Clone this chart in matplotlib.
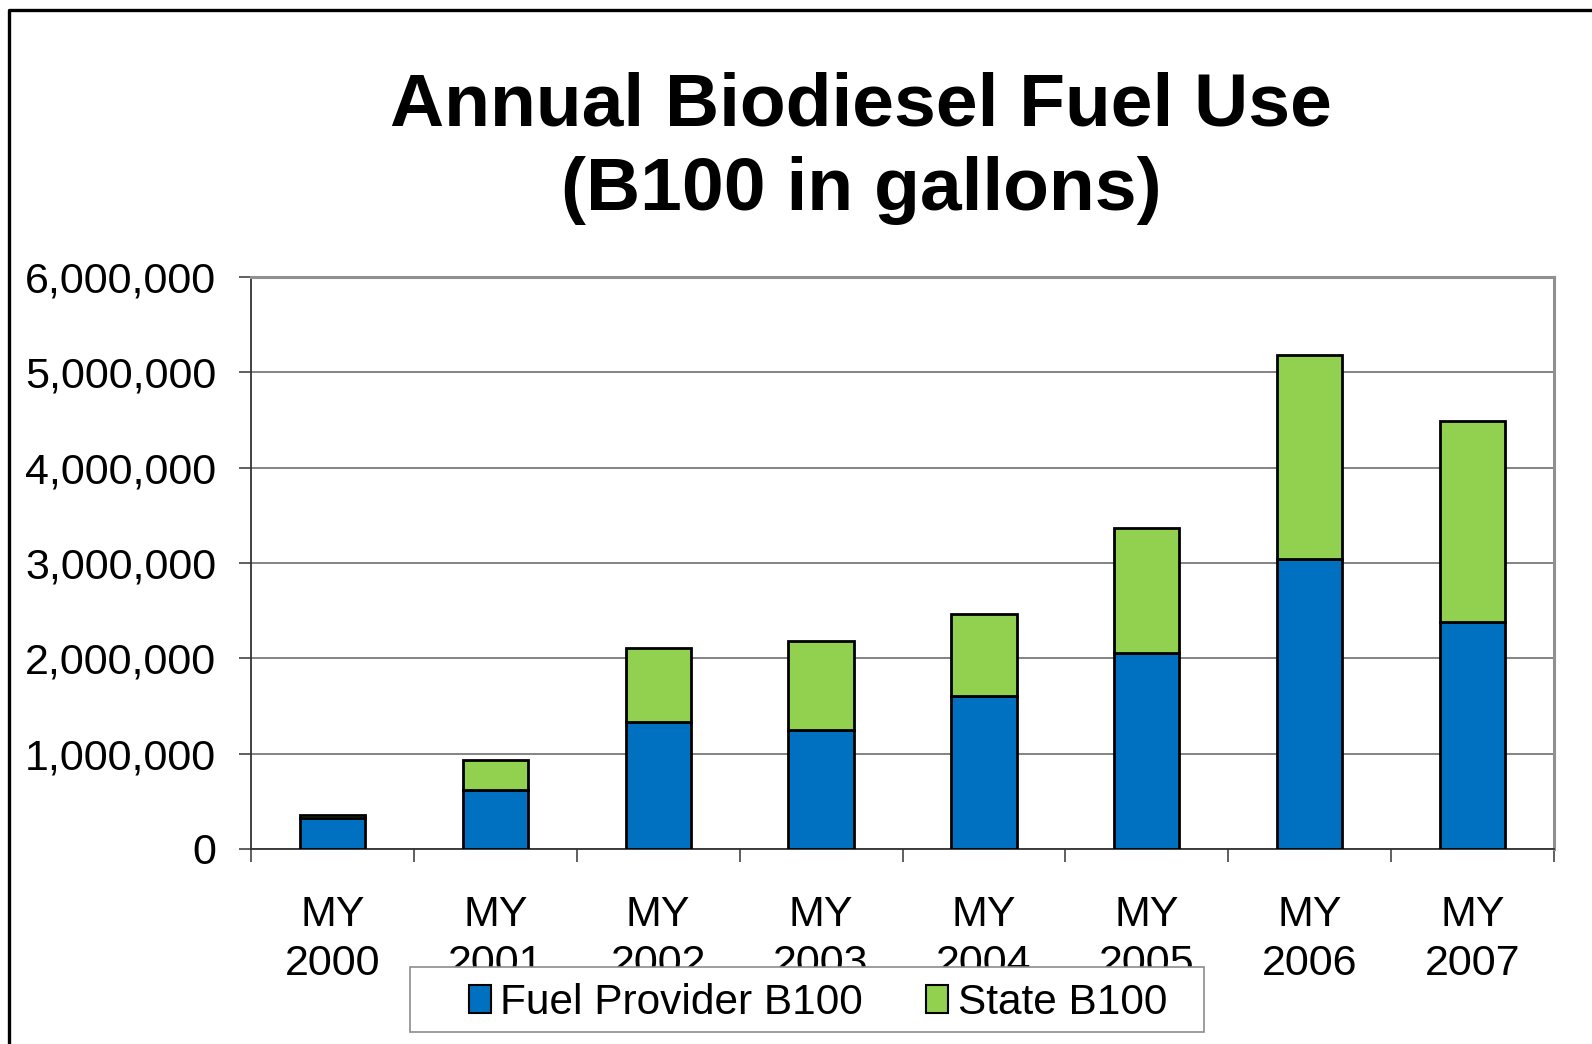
import matplotlib
matplotlib.use("Agg")
import matplotlib.pyplot as plt
from matplotlib.lines import Line2D
from matplotlib.patches import Rectangle, Patch
from matplotlib.ticker import FuncFormatter, FixedLocator
import numpy as np

plt.rcParams['font.family'] = ['Liberation Sans', 'DejaVu Sans']

categories = ["MY\n2000", "MY\n2001", "MY\n2002", "MY\n2003", "MY\n2004", "MY\n2005", "MY\n2006", "MY\n2007"]
fuel_provider = [320000, 617000, 1330000, 1245000, 1606000, 2053000, 3043000, 2383000]
state = [40000, 320000, 776000, 935000, 862000, 1319000, 2137000, 2106000]
yticks = [0, 1000000, 2000000, 3000000, 4000000, 5000000, 6000000]
series_names = ["Fuel Provider B100", "State B100"]
title = "Annual Biodiesel Fuel Use\n(B100 in gallons)"

BLUE = "#0070C0"
GREEN = "#92D050"

W, H = 1592, 1044
fig = plt.figure(figsize=(W / 100, H / 100), dpi=100)
ax = fig.add_axes([251 / W, 1 - 849 / H, (1554 - 251) / W, (849 - 277) / H])

x = np.arange(len(categories))
ax.bar(x, fuel_provider, width=0.4, color=BLUE, edgecolor="black", linewidth=2.0, zorder=3)
ax.bar(x, state, width=0.4, bottom=fuel_provider, color=GREEN, edgecolor="black", linewidth=2.0, zorder=3)

ax.set_xlim(-0.5, len(categories) - 0.5)
ax.set_ylim(0, 6000000)
ax.set_yticks(yticks)
ax.yaxis.set_major_formatter(FuncFormatter(lambda v, p: f"{int(v):,}"))
ax.yaxis.grid(True, color="#6e6e6e", linewidth=1.2, zorder=0)
ax.set_axisbelow(True)

# x ticks at category boundaries, labels at centers
ax.xaxis.set_major_locator(FixedLocator(np.arange(-0.5, len(categories), 1.0)))
ax.xaxis.set_major_formatter(FuncFormatter(lambda v, p: ""))
ax.xaxis.set_minor_locator(FixedLocator(x))
ax.set_xticklabels(categories, minor=True, linespacing=1.3)
ax.tick_params(axis='x', which='major', length=9, width=1.2, color="#444444", direction='out')
ax.tick_params(axis='x', which='minor', length=0, pad=33, labelsize=31)
ax.tick_params(axis='y', which='major', length=9, width=1.2, color="#444444", direction='out', pad=16, labelsize=31)

for s in ["left", "bottom"]:
    ax.spines[s].set_color("#333333")
    ax.spines[s].set_linewidth(1.3)
for s in ["top", "right"]:
    ax.spines[s].set_color("#909090")
    ax.spines[s].set_linewidth(2.2)

fig.text(861 / W, 1 - 72 / H, title, ha="center", va="top", fontsize=54,
         fontweight="bold", linespacing=1.27)

# legend frame
fig.add_artist(Rectangle((410 / W, 1 - 1032 / H), (1204 - 410) / W, (1032 - 967) / H,
                         transform=fig.transFigure, facecolor="white", edgecolor="#8c8c8c",
                         linewidth=1.2, zorder=5))
handles = [Patch(facecolor=BLUE, edgecolor="black", linewidth=1.5),
           Patch(facecolor=GREEN, edgecolor="black", linewidth=1.5)]
leg = fig.legend(handles, series_names, loc="center", bbox_to_anchor=(818 / W, 1 - 1003 / H),
                 ncol=2, frameon=False, fontsize=30.5, handlelength=0.52, handleheight=0.66,
                 handletextpad=0.22, columnspacing=1.5, borderpad=0)
leg.set_zorder(6)

# figure border (top and left)
fig.add_artist(Line2D([9 / W, 9 / W, 1], [0, 1 - 10 / H, 1 - 10 / H],
                      transform=fig.transFigure, color="black", linewidth=2.4))

fig.savefig("out.png", dpi=100)
